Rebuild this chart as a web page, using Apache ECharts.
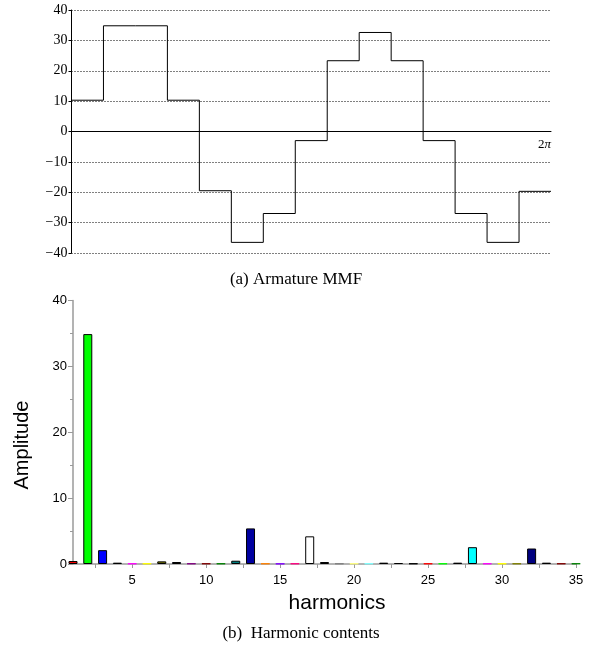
<!DOCTYPE html>
<html>
<head>
<meta charset="utf-8">
<script src="https://cdn.jsdelivr.net/npm/echarts@6/dist/echarts.min.js"></script>
<style>
  html, body { margin: 0; padding: 0; background: #fff; }
  #main { width: 592px; height: 648px; }
</style>
</head>
<body>
<div id="main"></div>
<script>
// (a) armature MMF, one level per slot, 15 slots over 0..2pi
var mmfLevels = [10.3, 34.8, 34.8, 10.3, -19.5, -36.5, -27, -3, 23.3, 32.6, 23.3, -3, -27, -36.5, -19.7]
var mmfTicks = [-40, -30, -20, -10, 0, 10, 20, 30, 40]

// (b) harmonic contents
var harmonics = [1, 2, 3, 4, 5, 6, 7, 8, 9, 10, 11, 12, 13, 14, 15, 16, 17, 18, 19, 20,
                 21, 22, 23, 24, 25, 26, 27, 28, 29, 30, 31, 32, 33, 34, 35]
var amplitude = [0.45, 34.9, 2.1, 0.2, 0.08, 0.08, 0.4, 0.3, 0.08, 0.08, 0.08, 0.5, 5.4, 0.08, 0.05, 0.08, 4.2,
                 0.3, 0.08, 0.08, 0.08, 0.2, 0.15, 0.08, 0.08, 0.08, 0.2, 2.55, 0.08, 0.08, 0.08, 2.35, 0.2, 0.08, 0.08]
var harmonicLabels = [5, 10, 15, 20, 25, 30, 35]
var harmonicTicks = [2.5, 5, 7.5, 10, 12.5, 15, 17.5, 20, 22.5, 25, 27.5, 30, 32.5, 35]

// origin-like colour cycle, one per bar
var barColors = ['#ff0000', '#00ff00', '#0000ff', '#00ffff', '#ff00ff', '#ffff00', '#808000', '#000080',
                 '#800080', '#800000', '#008000', '#008080', '#0000a0', '#ff8000', '#8000ff', '#ff0080',
                 '#ffffff', '#c0c0c0', '#808080', '#ffff80', '#80ffff', '#ff80ff', '#404040', '#000000',
                 '#ff0000', '#00ff00', '#0000ff', '#00ffff', '#ff00ff', '#ffff00', '#808000', '#000080',
                 '#800080', '#800000', '#008000']

var stepData = mmfLevels.map(function (v, i) { return [i, v] })
stepData.push([mmfLevels.length, mmfLevels[mmfLevels.length - 1]])

var barData = harmonics.map(function (h, i) {
    var c = barColors[i]
    // very small bars only show their fill colour in the original
    var tiny = amplitude[i] < 0.15
    return {
        value: [h, amplitude[i]],
        itemStyle: { color: c, borderColor: tiny ? c : '#000' }
    }
})

var serif = '"Liberation Serif", "Times New Roman", serif'
var sans = '"Liberation Sans", Arial, sans-serif'

var chart = echarts.init(document.getElementById('main'))
var option = {
    animation: false,
    backgroundColor: '#fff',
    grid: [
        { left: 71.5, right: 41, top: 10, height: 243 },
        { left: 73, right: 16, top: 300.5, height: 263.5 }
    ],
    xAxis: [
        {
            gridIndex: 0,
            type: 'value',
            min: 0,
            max: mmfLevels.length,
            axisLine: { onZero: true, lineStyle: { color: '#000', width: 1 } },
            axisTick: { show: false },
            splitLine: { show: false },
            axisLabel: { show: false }
        },
        {
            gridIndex: 1,
            type: 'value',
            min: 1,
            max: 35,
            axisLine: { onZero: false, lineStyle: { color: '#9a9a9a', width: 1.5 } },
            axisTick: { customValues: harmonicTicks, length: 4, lineStyle: { color: '#9a9a9a' } },
            splitLine: { show: false },
            axisLabel: {
                customValues: harmonicLabels,
                margin: 10,
                color: '#000',
                fontFamily: sans,
                fontSize: 13
            }
        }
    ],
    yAxis: [
        {
            gridIndex: 0,
            type: 'value',
            min: mmfTicks[0],
            max: mmfTicks[mmfTicks.length - 1],
            interval: 10,
            axisLine: { show: true, lineStyle: { color: '#000', width: 1 } },
            axisTick: { show: true, length: 3, lineStyle: { color: '#000' } },
            splitLine: { show: true, lineStyle: { color: '#000', type: [1, 2], width: 1 } },
            axisLabel: {
                margin: 4,
                color: '#000',
                fontFamily: serif,
                fontSize: 14,
                formatter: function (v) { return String(v).replace('-', '\u2212') }
            }
        },
        {
            gridIndex: 1,
            type: 'value',
            min: 0,
            max: 40,
            interval: 10,
            axisLine: { show: true, lineStyle: { color: '#9a9a9a', width: 1.5 } },
            axisTick: { show: true, length: 5, lineStyle: { color: '#9a9a9a' } },
            minorTick: { show: true, splitNumber: 2, length: 3, lineStyle: { color: '#9a9a9a' } },
            splitLine: { show: false },
            axisLabel: {
                margin: 6,
                color: '#000',
                fontFamily: sans,
                fontSize: 13
            }
        }
    ],
    series: [
        {
            type: 'line',
            xAxisIndex: 0,
            yAxisIndex: 0,
            step: 'end',
            symbol: 'none',
            data: stepData,
            lineStyle: { color: '#000', width: 1 }
        },
        {
            type: 'bar',
            xAxisIndex: 1,
            yAxisIndex: 1,
            barWidth: 9,
            data: barData,
            itemStyle: { borderWidth: 1 }
        }
    ],
    graphic: [
        {
            type: 'text', x: 551, y: 145,
            style: {
                text: '{n|2}{p|π}', align: 'right', verticalAlign: 'middle',
                rich: {
                    n: { fontFamily: serif, fontSize: 13, fill: '#000' },
                    p: { fontFamily: serif, fontSize: 13, fontStyle: 'italic', fill: '#000' }
                }
            }
        },
        {
            type: 'text', left: 'center', top: 271,
            style: { text: '(a) Armature MMF', font: '17px ' + serif, fill: '#000' }
        },
        {
            type: 'text', x: 337, y: 603,
            style: { text: 'harmonics', font: '21px ' + sans, fill: '#000', align: 'center', verticalAlign: 'middle' }
        },
        {
            type: 'text', x: 22, y: 445, rotation: Math.PI / 2,
            style: { text: 'Amplitude', font: '20px ' + sans, fill: '#000', align: 'center', verticalAlign: 'middle' }
        },
        {
            type: 'text', x: 301, y: 634,
            style: { text: '(b)  Harmonic contents', font: '17px ' + serif, fill: '#000', align: 'center', verticalAlign: 'middle' }
        }
    ]
}
chart.setOption(option)
</script>
</body>
</html>
